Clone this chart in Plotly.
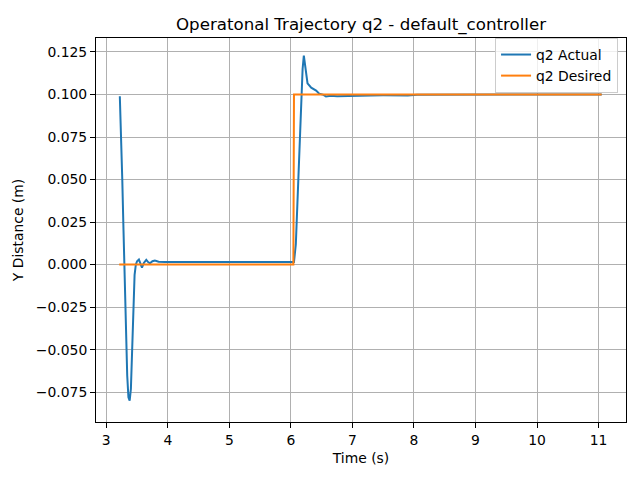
import plotly.graph_objects as go

# Actual trajectory
t_actual = [3.22, 3.24, 3.26, 3.28, 3.30, 3.32, 3.34, 3.36, 3.38, 3.40, 3.42, 3.44, 3.46, 3.48,
            3.50, 3.53, 3.56, 3.58, 3.61, 3.65, 3.68, 3.71, 3.75, 3.79, 3.85, 3.95, 4.5, 5.0,
            5.5, 6.0, 6.05, 6.08, 6.10, 6.13, 6.16, 6.19, 6.21, 6.23, 6.27, 6.33, 6.41, 6.46,
            6.49, 6.53, 6.57, 6.65, 6.75, 6.9, 7.1, 7.3, 7.5, 7.7, 7.9, 8.05, 8.5, 9.5, 10.5, 11.05]
q_actual = [0.099, 0.080, 0.050, 0.020, -0.010, -0.040, -0.065, -0.078, -0.080, -0.073, -0.050,
            -0.025, -0.006, 0.000, 0.002, 0.003, 0.000, -0.0018, 0.001, 0.0028, 0.0015, 0.0008,
            0.002, 0.0024, 0.0017, 0.0015, 0.0015, 0.0015, 0.0015, 0.0015, 0.0015, 0.012, 0.03,
            0.06, 0.09, 0.115, 0.1228, 0.118, 0.1065, 0.104, 0.1023, 0.1005, 0.1002, 0.0998,
            0.0988, 0.0992, 0.0990, 0.0992, 0.0993, 0.0994, 0.0995, 0.0993, 0.0994, 0.0998,
            0.0999, 0.1, 0.1, 0.1]

# Desired trajectory
t_desired = [3.21, 6.04, 6.05, 11.05]
q_desired = [0.0, 0.0, 0.1, 0.1]

x_ticks = [3, 4, 5, 6, 7, 8, 9, 10, 11]
y_ticks = [-0.075, -0.050, -0.025, 0.000, 0.025, 0.050, 0.075, 0.100, 0.125]

font = "DejaVu Sans"
W, H = 632, 472  # page body has an 8px default margin

fig = go.Figure()
fig.add_trace(go.Scatter(x=t_actual, y=q_actual, mode="lines", name="q2 Actual",
                         line=dict(color="#1f77b4", width=2)))
fig.add_trace(go.Scatter(x=t_desired, y=q_desired, mode="lines", name="q2 Desired",
                         line=dict(color="#ff7f0e", width=2)))

axis_common = dict(showgrid=True, gridcolor="#b0b0b0", gridwidth=1, zeroline=False,
                   showline=True, linecolor="black", linewidth=1, mirror=True,
                   ticks="outside", ticklen=5, tickcolor="black", automargin=False,
                   tickfont=dict(family=font, size=13.9, color="black"))

fig.update_layout(
    width=W, height=H,
    margin=dict(l=88, r=14, t=30, b=58),
    paper_bgcolor="white", plot_bgcolor="white",
    title=dict(text="Operatonal Trajectory q2 - default_controller", x=0.5, xanchor="center",
               xref="paper", y=1 - 16 / H, yanchor="middle",
               font=dict(family=font, size=16.67, color="black")),
    xaxis=dict(range=[2.833, 11.445], tickvals=x_ticks, ticktext=[str(v) for v in x_ticks],
               title=dict(text="Time (s)", font=dict(family=font, size=13.9, color="black"), standoff=6),
               **axis_common),
    yaxis=dict(range=[-0.0925, 0.1332], tickvals=y_ticks, tickformat=".3f",
               title=dict(text="Y Distance (m)", font=dict(family=font, size=13.9, color="black"), standoff=8),
               **axis_common),
    legend=dict(x=0.985, y=1.0, xanchor="right", yanchor="top", bgcolor="rgba(255,255,255,0.8)",
                bordercolor="#cccccc", borderwidth=1, font=dict(family=font, size=13.9, color="black")),
    showlegend=True,
)

fig.write_html("out.html")
